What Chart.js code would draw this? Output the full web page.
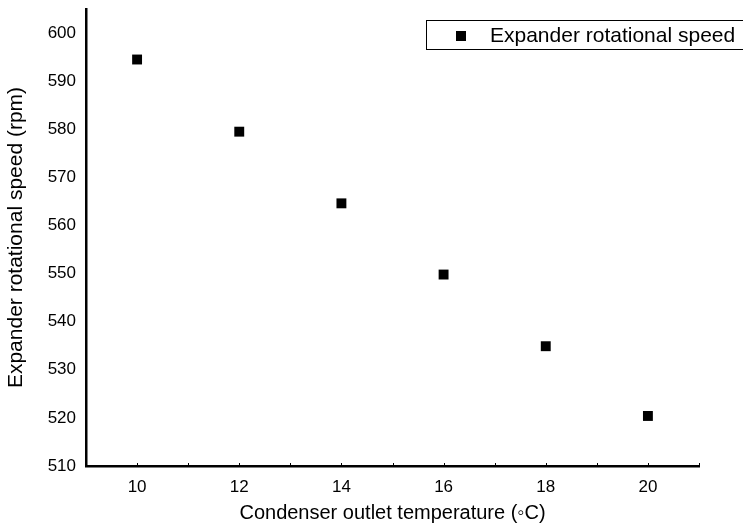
<!DOCTYPE html>
<html><head><meta charset="utf-8">
<script src="https://cdn.jsdelivr.net/npm/chart.js@4"></script>
<style>html,body{margin:0;padding:0;background:#fff}#wrap{width:743px;height:529px;position:relative}</style>
</head><body><div id="wrap"><canvas id="c" width="743" height="529"></canvas></div>
<script>
const temperatures = [10, 12, 14, 16, 18, 20];
const speeds = [594.5, 579.5, 564.6, 549.8, 534.9, 520.4];
const seriesName = 'Expander rotational speed';
const xTitle = 'Condenser outlet temperature (\u25E6C)';
const yTitle = 'Expander rotational speed (rpm)';

const FONT = '"Liberation Sans", Arial, sans-serif';

const innerTicks = {
  id: 'innerTicks',
  afterDatasetsDraw(chart) {
    const ctx = chart.ctx, xs = chart.scales.x;
    ctx.save();
    ctx.strokeStyle = '#000'; ctx.lineWidth = 1;
    xs.ticks.forEach(t => {
      const px = Math.round(xs.getPixelForValue(t.value)) + 0.5;
      ctx.beginPath(); ctx.moveTo(px, xs.top); ctx.lineTo(px, xs.top - 3); ctx.stroke();
    });
    ctx.restore();
  }
};

const boxLegend = {
  id: 'boxLegend',
  afterDraw(chart) {
    const ctx = chart.ctx;
    ctx.save();
    ctx.strokeStyle = '#000'; ctx.lineWidth = 1;
    ctx.strokeRect(426.5, 20.5, 330, 29);
    ctx.fillStyle = '#000';
    ctx.fillRect(456, 31, 10, 10);
    ctx.font = '21px ' + FONT;
    ctx.textBaseline = 'middle';
    ctx.fillText(seriesName, 490, 36);
    ctx.restore();
  }
};

new Chart(document.getElementById('c'), {
  type: 'scatter',
  data: {
    datasets: [{
      label: seriesName,
      data: temperatures.map((t, i) => ({x: t, y: speeds[i]})),
      pointStyle: 'rect',
      pointRadius: 7,
      pointHoverRadius: 7,
      backgroundColor: '#000',
      borderColor: '#000',
      borderWidth: 0
    }]
  },
  options: {
    responsive: false,
    animation: false,
    layout: {padding: {top: 9, right: 44, left: 0, bottom: 0}},
    plugins: {legend: {display: false}, tooltip: {enabled: false}},
    scales: {
      x: {
        type: 'linear', min: 9, max: 21,
        afterFit(s) { s.height = 63; s.paddingLeft = 0; s.paddingRight = 0; },
        grid: {display: false, drawTicks: false},
        border: {display: true, color: '#000', width: 2.5},
        ticks: {
          stepSize: 1, padding: 11, color: '#000', autoSkip: false, maxRotation: 0,
          font: {family: FONT, size: 17},
          callback: v => (v % 2 === 0 ? String(v) : '')
        },
        title: {display: true, text: xTitle, color: '#000', font: {family: FONT, size: 20}, padding: {top: 4}}
      },
      y: {
        type: 'linear', min: 510, max: 605,
        afterFit(s) { s.width = 86; s.paddingTop = 0; s.paddingBottom = 0; },
        afterBuildTicks(s) { s.ticks = s.ticks.filter(t => t.value % 10 === 0); },
        grid: {display: false, drawTicks: false},
        border: {display: true, color: '#000', width: 2.5},
        ticks: {stepSize: 10, padding: 10, color: '#000', font: {family: FONT, size: 17}},
        title: {display: true, text: yTitle, color: '#000', font: {family: FONT, size: 21}, padding: {bottom: 2}}
      }
    }
  },
  plugins: [innerTicks, boxLegend]
});
</script></body></html>
